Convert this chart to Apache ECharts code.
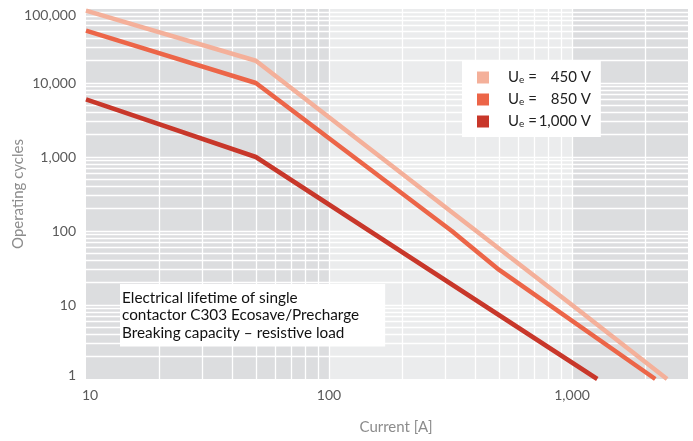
<!DOCTYPE html>
<html>
<head>
<meta charset="utf-8">
<script src="https://cdn.jsdelivr.net/npm/echarts@6/dist/echarts.min.js"></script>
<style>html,body{margin:0;padding:0;background:#fff;}#c{width:693px;height:441px;}</style>
</head>
<body>
<div id="c"></div>
<script>
// ---- data ----
const current450 = [10, 50, 1000, 2460];
const cycles450 = [95000, 20000, 10, 1];
const current850 = [10, 50, 320, 500, 2200];
const cycles850 = [51000, 10000, 100, 30, 1];
const current1000 = [10, 50, 1270];
const cycles1000 = [6000, 1000, 1];
const seriesNames = ['450', '850', '1000'];
const voltageLabels = ['450 V', '850 V', '1,000 V'];
const xGridValues = [20, 30, 40, 50, 60, 70, 80, 90, 100, 200, 300, 400, 500, 600, 700, 800, 900, 1000, 2000];
const yGridValues = [2, 3, 4, 5, 6, 7, 8, 9, 10, 20, 30, 40, 50, 60, 70, 80, 90, 100,
  200, 300, 400, 500, 600, 700, 800, 900, 1000, 2000, 3000, 4000, 5000, 6000, 7000, 8000, 9000, 10000,
  20000, 30000, 40000, 50000, 60000, 70000, 80000, 90000];
const darkBands = [[10, 100], [1000, 3000]];
const noteText = 'Electrical lifetime of single\ncontactor C303 Ecosave/Precharge\nBreaking capacity \u2013 resistive load';

const FONT = 'Lato';
const colors = ['#f4b09a', '#ec6548', '#c8372a'];

function pairs(xs, ys) { return xs.map((x, i) => [x, ys[i]]); }
function fmt(v) { return Number(v).toLocaleString('en-US'); }

const chart = echarts.init(document.getElementById('c'));
chart.setOption({
  animation: false,
  textStyle: { fontFamily: FONT },
  grid: { left: 86, right: 5, top: 9, bottom: 62, show: true, backgroundColor: '#ebeced', borderWidth: 0,
          containLabel: false, outerBoundsMode: 'none' },
  title: [{
    text: noteText,
    left: 120, top: 284, z: 20,
    backgroundColor: '#ffffff',
    padding: [5, 26, 5, 2],
    textStyle: { fontFamily: FONT, fontSize: 15.3, fontWeight: 'normal', color: '#111111', lineHeight: 17.5 }
  }],
  legend: {
    orient: 'vertical',
    left: 462, top: 61, z: 20,
    backgroundColor: '#ffffff',
    padding: [9, 10, 8, 15],
    itemGap: 7,
    itemWidth: 12, itemHeight: 12,
    icon: 'rect',
    data: seriesNames,
    formatter: function (name) {
      const i = seriesNames.indexOf(name);
      return '{u|U}{sub|e}{eq| =}{v|' + voltageLabels[i] + '}';
    },
    textStyle: {
      fontFamily: FONT, fontSize: 15, color: '#222',
      rich: {
        u: { fontFamily: FONT, fontSize: 15, color: '#222', padding: [0, 0, 0, 14] },
        sub: { fontFamily: FONT, fontSize: 10, color: '#222', verticalAlign: 'bottom' },
        eq: { fontFamily: FONT, fontSize: 15, color: '#222' },
        v: { fontFamily: FONT, fontSize: 15, color: '#222', width: 54, align: 'right' }
      }
    }
  },
  xAxis: {
    type: 'log', logBase: 10, min: 10, max: 3000,
    name: 'Current [A]', nameLocation: 'middle', nameGap: 41,
    nameTextStyle: { fontFamily: FONT, fontSize: 15, color: '#8c8c8c', padding: [0, 0, 0, 18] },
    axisLine: { show: false }, axisTick: { show: false }, splitLine: { show: false },
    axisLabel: {
      margin: 9, fontFamily: FONT, fontSize: 14, color: '#5a5a5a', showMaxLabel: false,
      formatter: function (v) { return v === 10 ? '{first|10}' : fmt(v); },
      rich: { first: { fontFamily: FONT, fontSize: 14, color: '#5a5a5a', padding: [0, 0, 0, 8] } }
    }
  },
  yAxis: {
    type: 'log', logBase: 10, min: 1, max: 100000,
    name: 'Operating cycles', nameLocation: 'middle', nameGap: 60, nameMoveOverlap: false,
    nameTextStyle: { fontFamily: FONT, fontSize: 15, color: '#8c8c8c' },
    axisLine: { show: false }, axisTick: { show: false }, splitLine: { show: false },
    axisLabel: {
      margin: 10, fontFamily: FONT, fontSize: 14, color: '#5a5a5a',
      formatter: function (v) {
        if (v >= 100000) return '{top|' + fmt(v) + '}';
        if (v <= 1) return '{bot|' + fmt(v) + '}';
        return fmt(v);
      },
      rich: {
        top: { fontFamily: FONT, fontSize: 14, color: '#5a5a5a', padding: [13, 0, 0, 0] },
        bot: { fontFamily: FONT, fontSize: 14, color: '#5a5a5a', padding: [0, 0, 8, 0] }
      }
    }
  },
  series: [
    {
      type: 'line', name: 'bands', data: [], z: 1, silent: true,
      markArea: {
        silent: true,
        itemStyle: { color: '#dcdddf' },
        data: darkBands.map(b => [{ xAxis: b[0] }, { xAxis: b[1] }])
      }
    },
    {
      type: 'line', name: 'gridlines', data: [], z: 2, silent: true,
      markLine: {
        silent: true, symbol: 'none', animation: false,
        label: { show: false },
        lineStyle: { color: '#ffffff', width: 1.3, type: 'solid' },
        data: xGridValues.map(v => ({ xAxis: v })).concat(yGridValues.map(v => ({ yAxis: v })))
      }
    },
    { type: 'line', name: seriesNames[0], data: pairs(current450, cycles450), z: 5, symbol: 'none',
      lineStyle: { width: 4.5, color: colors[0] }, itemStyle: { color: colors[0] } },
    { type: 'line', name: seriesNames[1], data: pairs(current850, cycles850), z: 5, symbol: 'none',
      lineStyle: { width: 4.5, color: colors[1] }, itemStyle: { color: colors[1] } },
    { type: 'line', name: seriesNames[2], data: pairs(current1000, cycles1000), z: 5, symbol: 'none',
      lineStyle: { width: 4.5, color: colors[2] }, itemStyle: { color: colors[2] } }
  ]
});
</script>
</body>
</html>
